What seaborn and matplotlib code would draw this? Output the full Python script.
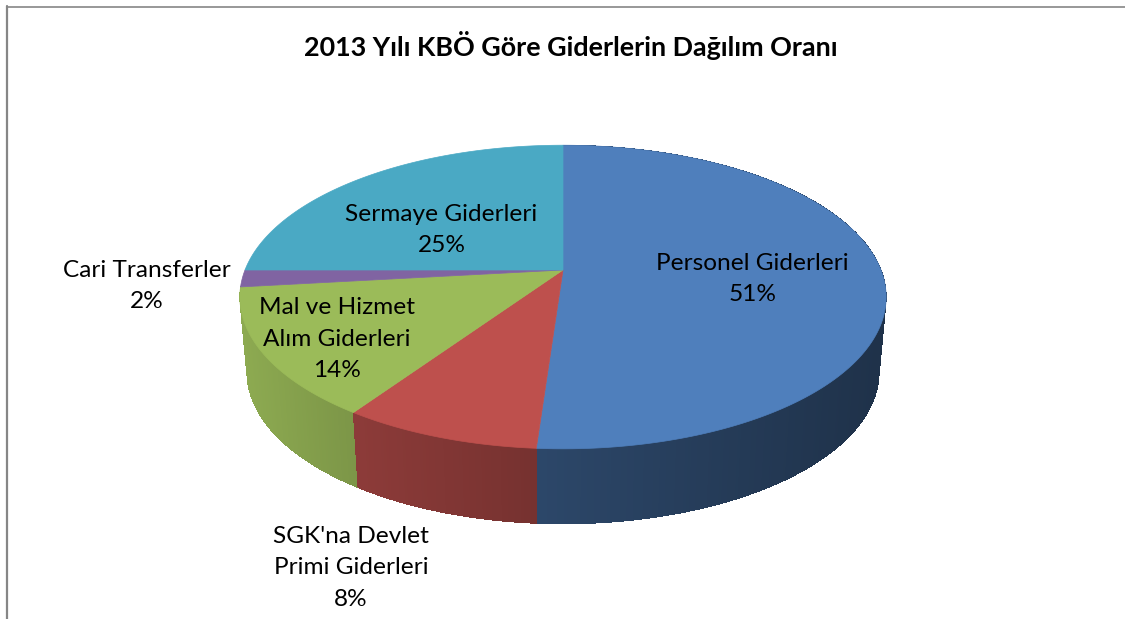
import numpy as np
import matplotlib
matplotlib.use("Agg")
import matplotlib.pyplot as plt
import seaborn as sns

title = "2013 Yılı KBÖ Göre Giderlerin Dağılım Oranı"
categories = ["Personel Giderleri", "SGK'na Devlet\nPrimi Giderleri", "Mal ve Hizmet\nAlım Giderleri",
              "Cari Transferler", "Sermaye Giderleri"]
values = [51.1, 8.4, 13.7, 1.8, 25.0]
colors = ["#4F7FBC", "#BE504D", "#9BBB59", "#8064A2", "#4AA9C4"]

# wall darkening, (left end, right end) of each slice
wall_shade = [(0.56, 0.39), (0.74, 0.62), (0.91, 0.80)]
label_pos = [(752.5, 279), (351, 568), (337, 339), (146.5, 286), (441.5, 230)]

sns.set_theme(style="white")
plt.rcParams['font.family'] = ['Lato', 'DejaVu Sans']

# perspective of the pie, in pixels
CX, CY = 563, 270
A, B, K = 318, 147, 0.178
BOTTOM_CY, BOTTOM_A = 345, 311


def project(angle, a=A, cy=CY):
    # angle in degrees clockwise from the top
    r = np.radians(angle)
    x, y = np.sin(r), np.cos(r)
    w = 1 + K * y
    return CX + a * x / w, cy - B * y / w


fig = plt.figure(figsize=(11.25, 6.19), dpi=100)
ax = fig.add_axes([0, 0, 1, 1])
ax.set_xlim(0, 1125)
ax.set_ylim(619, 0)
ax.axis("off")

edges = np.concatenate([[0], np.cumsum(values)]) * 3.6

# side wall: a base shape, then thin strips for the shading
for i in [0, 2, 1]:
    col = np.array(matplotlib.colors.to_rgb(colors[i]))
    angles = np.linspace(edges[i], edges[i + 1], int(edges[i + 1] - edges[i]) * 2 + 2)
    tx, ty = project(angles)
    bx, by = project(angles, BOTTOM_A, BOTTOM_CY)
    lo, hi = tx.min(), tx.max()
    ax.fill(np.r_[tx, bx[::-1]], np.r_[ty, by[::-1]], color=col * np.mean(wall_shade[i]), lw=0, zorder=2)
    for j in range(len(angles) - 1):
        f = wall_shade[i][0] + (wall_shade[i][1] - wall_shade[i][0]) * ((tx[j] + tx[j + 1]) / 2 - lo) / (hi - lo)
        ax.fill([tx[j], tx[j + 1], bx[j + 1], bx[j]], [ty[j], ty[j + 1], by[j + 1], by[j]],
                color=col * f, lw=0, antialiased=False, zorder=2.1)

# top of the pie
for i in range(len(values)):
    angles = np.linspace(edges[i], edges[i + 1], 300)
    px, py = project(angles)
    ax.fill(np.r_[CX, px], np.r_[CY, py], color=colors[i], lw=0.5, zorder=3)

# labels
for name, v, (lx, ly) in zip(categories, values, label_pos):
    ax.text(lx, ly, f"{name}\n{round(v)}%", ha="center", va="center", fontsize=17.6,
            color="black", linespacing=1.6, zorder=5)

ax.text(570.5, 46, title, ha="center", va="center", fontsize=19.4, fontweight="bold", color="black")

# chart frame, only top and left are in the crop
ax.plot([6.5, 1125], [6.5, 6.5], color="#868686", lw=1.2, zorder=1)
ax.plot([6.8, 6.8], [6, 619], color="#868686", lw=1.6, zorder=1)

fig.savefig("out.png", dpi=100)
